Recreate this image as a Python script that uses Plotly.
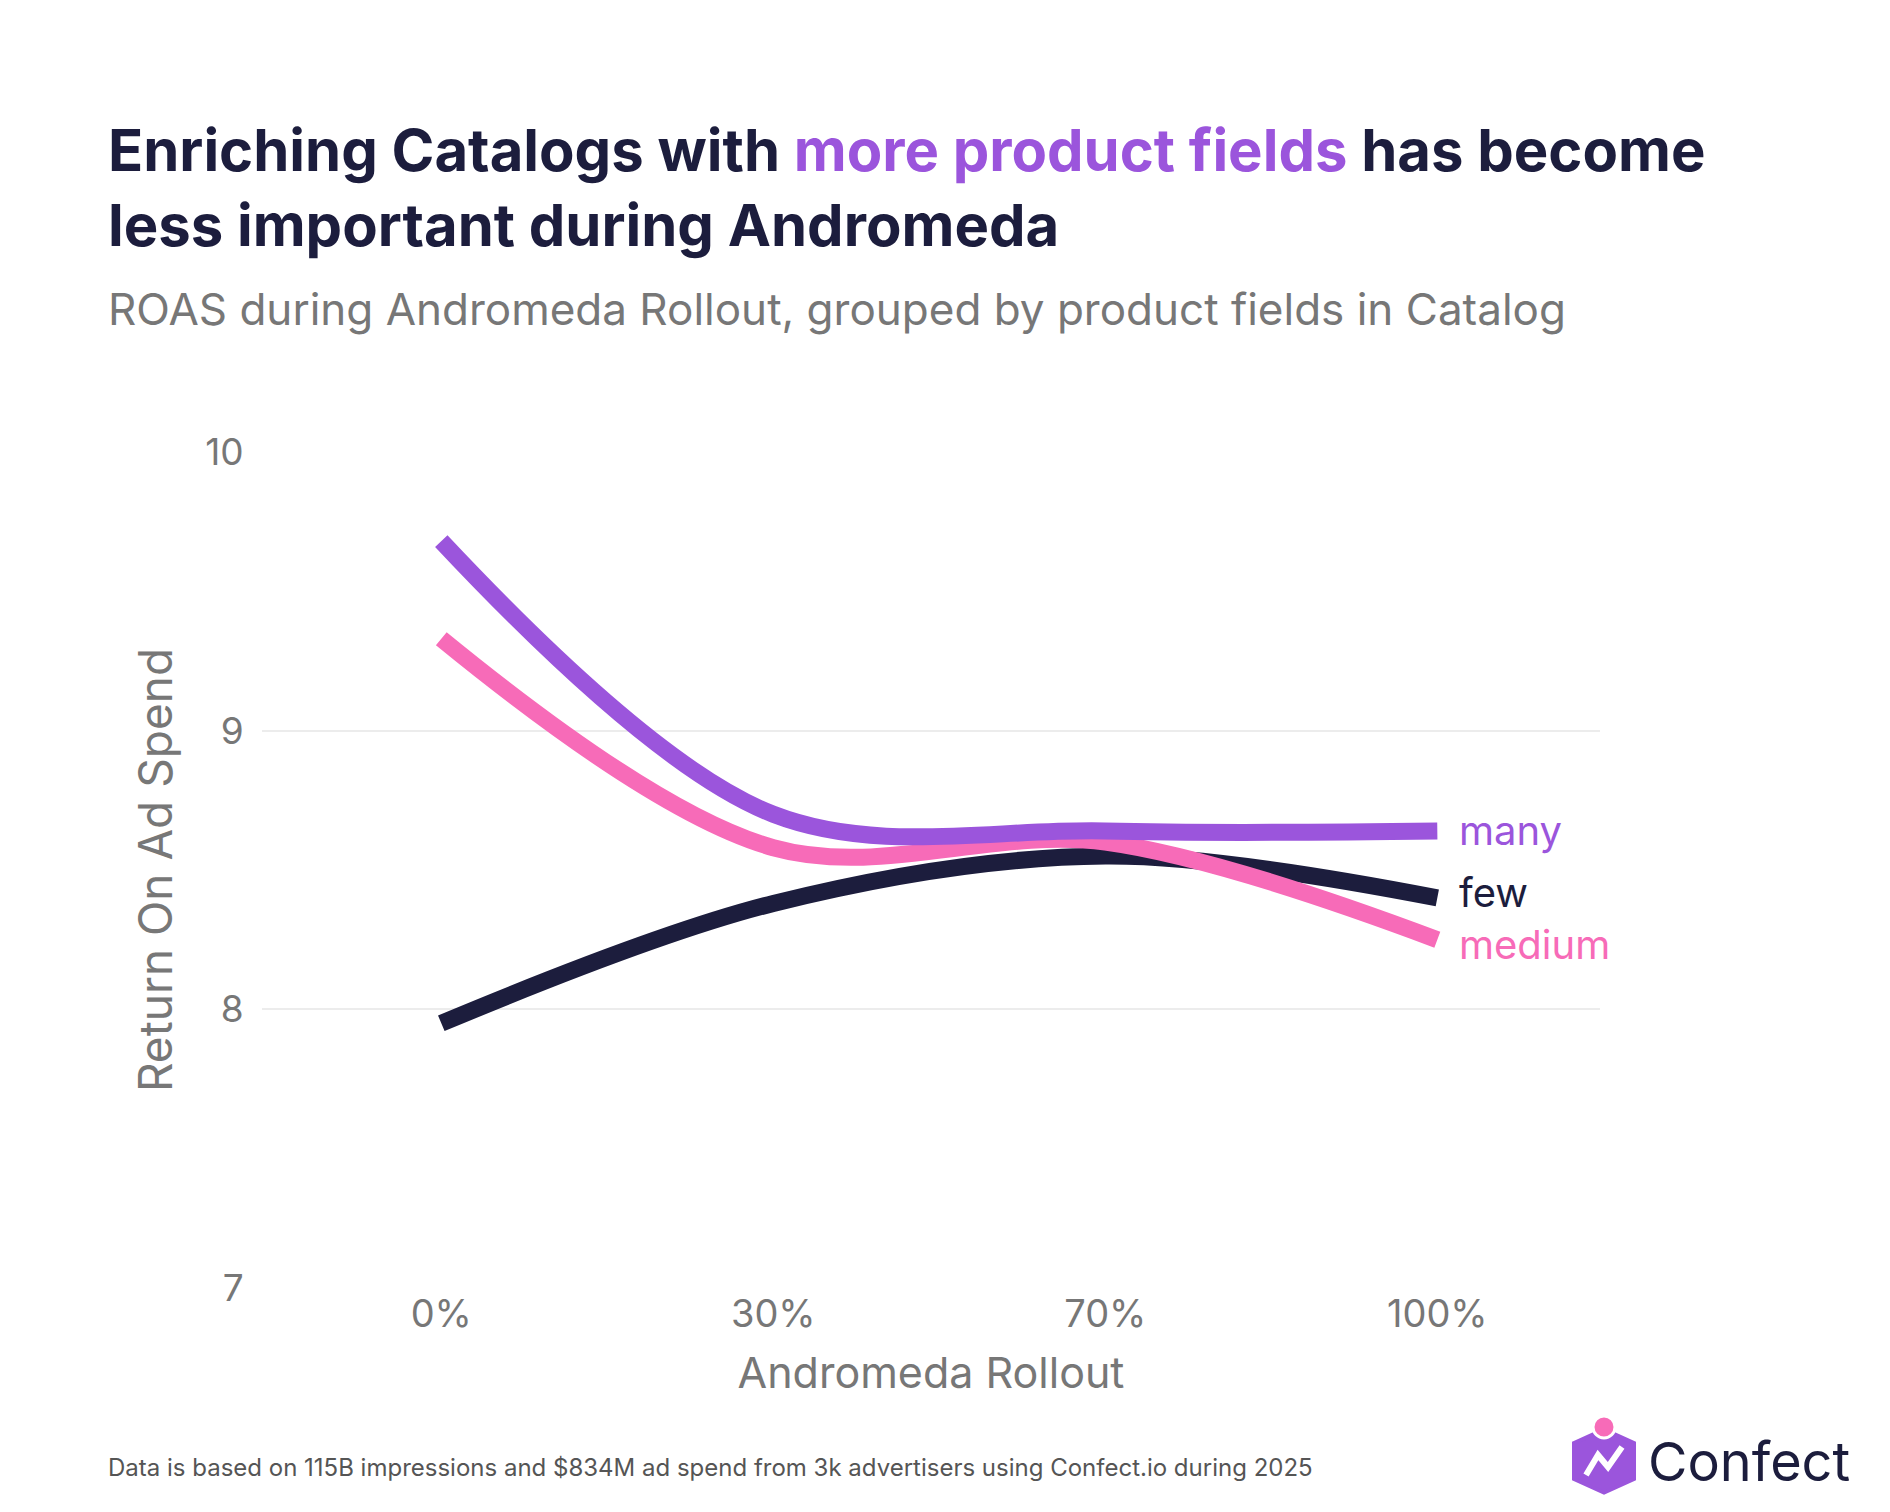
import plotly.graph_objects as go

categories = ["0%", "30%", "70%", "100%"]
many = [9.68, 8.70, 8.64, 8.64]
medium = [9.33, 8.58, 8.60, 8.25]
few = [7.95, 8.38, 8.55, 8.40]
series = [("few", few, "#1c1d3d", 5), ("medium", medium, "#f76bb8", -5), ("many", many, "#9b55dc", 0)]

W, H = 1890, 1512
L, R, T, B = 254, 1592, 444, 1280
def px(x): return (x - L) / (R - L)
def py(y): return (B - y) / (B - T)

fig = go.Figure()
xs = [0, 1, 2, 3]
for name, vals, col, ys in series:
    fig.add_trace(go.Scatter(x=xs, y=vals, mode="lines", line=dict(color=col, width=17, shape="spline", smoothing=1.0),
                             showlegend=False, hoverinfo="skip"))
    fig.add_annotation(x=3, y=vals[-1], text=name, showarrow=False, xanchor="left", xshift=20, yshift=ys,
                       font=dict(size=40, color=col, family="Inter"))

fig.update_layout(
    width=W, height=H, plot_bgcolor="white", paper_bgcolor="white",
    margin=dict(l=L, r=W - R, t=T, b=H - B),
    font=dict(family="Inter", color="#777"),
    xaxis=dict(range=[-0.54, 3.49], tickvals=xs, ticktext=categories, showgrid=False, zeroline=False,
               tickfont=dict(size=38, color="#777"), ticks="", ticklen=10,
               title=dict(text="Andromeda Rollout", font=dict(size=43, color="#777"), standoff=22)),
    yaxis=dict(range=[7, 10], tickvals=[7, 8, 9, 10], showgrid=True, gridcolor="#ececec", gridwidth=1.5,
               zeroline=False, tickfont=dict(size=37, color="#777"), ticks="outside", tickcolor="white", ticklen=10,
               title=dict(text="Return On Ad Spend", font=dict(size=46, color="#777"), standoff=18)),
)

fig.add_annotation(xref="paper", yref="paper", x=px(98), y=py(180), xanchor="left", yanchor="middle", showarrow=False,
                   align="left",
                   text="<b>Enriching Catalogs with <span style='color:#9b55dc'>more product fields</span> has become<br>less important during Andromeda</b>",
                   font=dict(size=58, color="#1c1d3d", family="Inter"))
fig.add_annotation(xref="paper", yref="paper", x=px(98), y=py(301), xanchor="left", yanchor="middle", showarrow=False,
                   text="ROAS during Andromeda Rollout, grouped by product fields in Catalog",
                   font=dict(size=44, color="#777", family="Inter"))
fig.add_annotation(xref="paper", yref="paper", x=px(98), y=py(1459), xanchor="left", yanchor="middle", showarrow=False,
                   text="Data is based on 115B impressions and $834M ad spend from 3k advertisers using Confect.io during 2025",
                   font=dict(size=24, color="#555", family="Inter"))

# logo
cx, cy, s = 1596, 1453, 30
hexpts = [(cx - s, cy - s * 0.6), (cx, cy - s * 1.05), (cx + s, cy - s * 0.6), (cx + s, cy + s * 0.6), (cx, cy + s * 1.05), (cx - s, cy + s * 0.6)]
path = "M " + " L ".join(f"{px(x)},{py(y)}" for x, y in hexpts) + " Z"
fig.add_shape(type="path", xref="paper", yref="paper", path=path, fillcolor="#9b55dc", line=dict(color="#9b55dc", width=4))
zz = [(cx - 18, cy + 14), (cx - 6, cy - 6), (cx + 4, cy + 6), (cx + 18, cy - 14)]
fig.add_shape(type="path", xref="paper", yref="paper", path="M " + " L ".join(f"{px(x)},{py(y)}" for x, y in zz),
              line=dict(color="white", width=6))
r = 11
fig.add_shape(type="circle", xref="paper", yref="paper", x0=px(cx - r), x1=px(cx + r), y0=py(cy - 34 - r), y1=py(cy - 34 + r),
              fillcolor="#f76bb8", line=dict(color="white", width=3))
fig.add_annotation(xref="paper", yref="paper", x=px(1638), y=py(1453), xanchor="left", yanchor="middle", showarrow=False,
                   text="Confect", font=dict(size=54, color="#1c1d3d", family="Inter"))

fig.write_html("out.html")
